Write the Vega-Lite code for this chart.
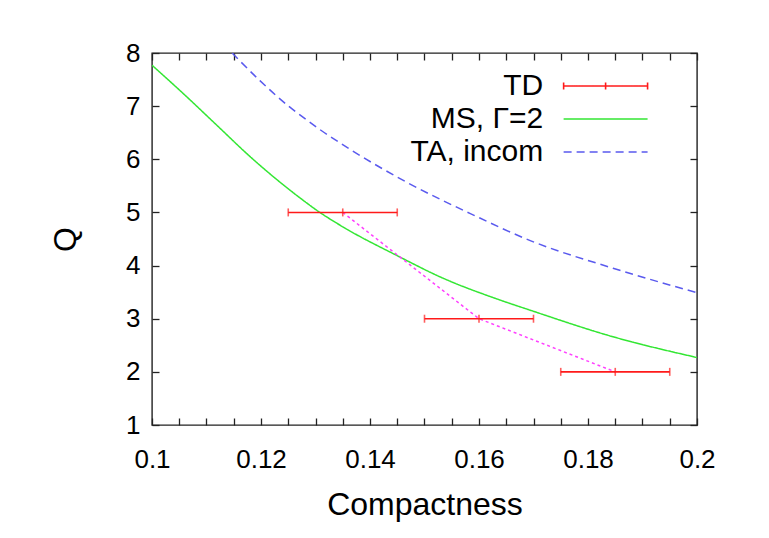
{
  "$schema": "https://vega.github.io/schema/vega-lite/v6.json",
  "width": 545,
  "height": 372,
  "autosize": "none",
  "padding": {"left": 152, "top": 53, "right": 72, "bottom": 113},
  "background": "white",
  "config": {
    "view": {"stroke": "#222", "strokeWidth": 1.4},
    "font": "Liberation Sans",
    "axis": {
      "grid": false,
      "domain": false,
      "tickColor": "#222",
      "tickWidth": 1.3,
      "tickSize": -7,
      "labelFont": "Liberation Sans",
      "labelFontSize": 26,
      "labelColor": "#000",
      "titleFont": "Liberation Sans",
      "titleFontSize": 32,
      "titleFontWeight": "normal",
      "titleColor": "#000",
      "labelOverlap": false,
      "labelBound": false,
      "labelFlush": false
    },
    "legend": {
      "title": null,
      "orient": "none",
      "legendX": 438.6,
      "legendY": 18,
      "padding": 0,
      "symbolSize": 282,
      "symbolStrokeWidth": 1.6,
      "symbolOffset": 0,
      "labelFont": "Liberation Sans",
      "labelFontSize": 30,
      "labelColor": "#000",
      "labelAlign": "right",
      "labelOffset": -77.4,
      "rowPadding": 3,
      "labelLimit": 400
    }
  },
  "datasets": {
    "td": [
      {"series": "TD", "c": 0.135, "lo": 0.125, "hi": 0.145, "q": 5},
      {"series": "TD", "c": 0.16, "lo": 0.15, "hi": 0.17, "q": 3},
      {"series": "TD", "c": 0.185, "lo": 0.175, "hi": 0.195, "q": 2}
    ],
    "curves": [
      {"series": "MS, Γ=2", "c": 0.1, "q": 7.77},
      {"series": "MS, Γ=2", "c": 0.1057, "q": 7.24},
      {"series": "MS, Γ=2", "c": 0.1119, "q": 6.64},
      {"series": "MS, Γ=2", "c": 0.118, "q": 6.05},
      {"series": "MS, Γ=2", "c": 0.1272, "q": 5.27},
      {"series": "MS, Γ=2", "c": 0.1308, "q": 5.0},
      {"series": "MS, Γ=2", "c": 0.1345, "q": 4.76},
      {"series": "MS, Γ=2", "c": 0.1455, "q": 4.16},
      {"series": "MS, Γ=2", "c": 0.1528, "q": 3.79},
      {"series": "MS, Γ=2", "c": 0.1639, "q": 3.35},
      {"series": "MS, Γ=2", "c": 0.1694, "q": 3.16},
      {"series": "MS, Γ=2", "c": 0.1846, "q": 2.66},
      {"series": "MS, Γ=2", "c": 0.2, "q": 2.27},
      {"series": "TA, incom", "c": 0.1147, "q": 8.0},
      {"series": "TA, incom", "c": 0.1198, "q": 7.48},
      {"series": "TA, incom", "c": 0.1253, "q": 6.98},
      {"series": "TA, incom", "c": 0.1272, "q": 6.83},
      {"series": "TA, incom", "c": 0.1308, "q": 6.56},
      {"series": "TA, incom", "c": 0.1363, "q": 6.19},
      {"series": "TA, incom", "c": 0.1467, "q": 5.57},
      {"series": "TA, incom", "c": 0.159, "q": 4.95},
      {"series": "TA, incom", "c": 0.1694, "q": 4.47},
      {"series": "TA, incom", "c": 0.1846, "q": 3.95},
      {"series": "TA, incom", "c": 0.2, "q": 3.49}
    ]
  },
  "layer": [
    {
      "data": {"name": "curves"},
      "mark": {"type": "line", "strokeWidth": 1.5, "interpolate": "monotone", "clip": true},
      "encoding": {
        "x": {
          "field": "c", "type": "quantitative",
          "scale": {"domain": [0.1, 0.2], "nice": false, "zero": false},
          "axis": {
            "orient": "bottom",
            "title": "Compactness",
            "values": [0.1, 0.105, 0.11, 0.115, 0.12, 0.125, 0.13, 0.135, 0.14, 0.145, 0.15, 0.155, 0.16, 0.165, 0.17, 0.175, 0.18, 0.185, 0.19, 0.195, 0.2],
            "labelExpr": "(round(datum.value*1000) % 20 == 0) ? format(datum.value, '.2~f') : ''",
            "labelPadding": 28,
            "titlePadding": 17
          }
        },
        "y": {
          "field": "q", "type": "quantitative",
          "scale": {"domain": [1, 8], "nice": false, "zero": false},
          "axis": {
            "orient": "left",
            "title": "Q",
            "values": [1, 2, 3, 4, 5, 6, 7, 8],
            "labelPadding": 19,
            "titlePadding": 43
          }
        },
        "color": {
          "field": "series", "type": "nominal",
          "scale": {"domain": ["TD", "MS, Γ=2", "TA, incom"], "range": ["#ff1a1a", "#33e633", "#5a5aee"]},
          "legend": {
            "encode": {
              "symbols": {
                "update": {
                  "shape": {"signal": "datum.value === 'TD' ? 'M-5,0H5M-5,-0.42V0.42M5,-0.42V0.42M0,-0.42V0.42' : 'M-5,0H5'"},
                  "stroke": {"scale": "color", "field": "value"},
                  "strokeDash": {"signal": "datum.value === 'TA, incom' ? [8, 5] : [1, 0]"},
                  "strokeWidth": {"value": 1.6},
                  "fill": {"value": "transparent"},
                  "opacity": {"value": 1}
                }
              }
            }
          }
        },
        "strokeDash": {
          "field": "series", "type": "nominal",
          "scale": {"domain": ["TD", "MS, Γ=2", "TA, incom"], "range": [[1, 0], [1, 0], [8, 5]]},
          "legend": null
        }
      }
    },
    {
      "data": {"name": "td"},
      "mark": {"type": "line", "strokeWidth": 1.5, "color": "#ff40ff", "strokeDash": [3, 3]},
      "encoding": {
        "x": {
          "field": "c", "type": "quantitative",
          "axis": {
            "orient": "top", "title": null, "labels": false,
            "values": [0.1, 0.105, 0.11, 0.115, 0.12, 0.125, 0.13, 0.135, 0.14, 0.145, 0.15, 0.155, 0.16, 0.165, 0.17, 0.175, 0.18, 0.185, 0.19, 0.195, 0.2]
          }
        },
        "y": {
          "field": "q", "type": "quantitative",
          "axis": {"orient": "right", "title": null, "labels": false, "values": [1, 2, 3, 4, 5, 6, 7, 8]}
        }
      }
    },
    {
      "data": {"name": "td"},
      "mark": {"type": "rule", "strokeWidth": 1.6},
      "encoding": {
        "x": {"field": "lo", "type": "quantitative", "axis": null},
        "x2": {"field": "hi"},
        "y": {"field": "q", "type": "quantitative", "axis": null},
        "color": {"field": "series", "type": "nominal"}
      }
    },
    {
      "data": {"name": "td"},
      "transform": [{"fold": ["lo", "c", "hi"], "as": ["k", "xv"]}],
      "mark": {"type": "tick", "orient": "vertical", "size": 8, "thickness": 1.6},
      "encoding": {
        "x": {"field": "xv", "type": "quantitative", "axis": null},
        "y": {"field": "q", "type": "quantitative", "axis": null},
        "color": {"field": "series", "type": "nominal"}
      }
    }
  ],
  "resolve": {"axis": {"x": "independent", "y": "independent"}}
}
